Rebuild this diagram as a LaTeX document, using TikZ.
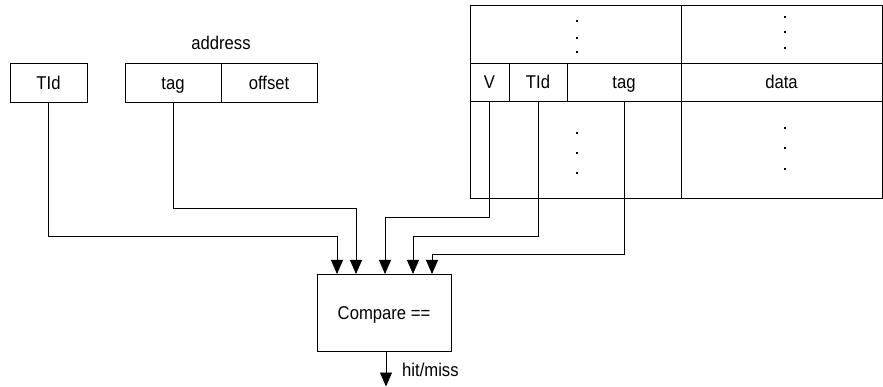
\documentclass[tikz,border=0pt]{standalone}
\usepackage{fontspec}
\setmainfont{Liberation Sans}[FakeStretch=0.9]
\usetikzlibrary{arrows.meta}
\begin{document}
\begin{tikzpicture}[x=1pt,y=-1pt,
  every node/.style={font=\fontsize{18.5}{22}\selectfont, text height=13.2pt, text depth=0pt},
  cell/.style={draw, line width=0.9pt, rectangle, inner sep=0pt},
  arr/.style={line width=0.9pt, -{Triangle[width=12pt,length=14pt]}},
  dotmark/.style={fill, rectangle, inner sep=0pt, minimum size=2.5pt, text height=0pt}
]
\useasboundingbox (0,0) rectangle (883,387);

% thread id register and address register
\node[cell, minimum width=77pt, minimum height=39pt] (tid)  at (48.5,82.5) {TId};
\node[cell, minimum width=96pt, minimum height=39pt] (atag) at (173,82.5) {tag};
\node[cell, minimum width=96pt, minimum height=39pt] (aoff) at (269,82.5) {offset};
\node (addr) at (221,43) {address};

% cache array: other lines above and below the selected line
\node[cell, minimum width=211pt, minimum height=58pt] (topl) at (575.5,34) {};
\node[cell, minimum width=201pt, minimum height=58pt] (topr) at (781.5,34) {};
\node[cell, minimum width=211pt, minimum height=97pt] (botl) at (575.5,149.5) {};
\node[cell, minimum width=201pt, minimum height=97pt] (botr) at (781.5,149.5) {};

% selected cache line
\node[cell, minimum width=39pt,  minimum height=38pt] (cv)    at (489.5,82) {V};
\node[cell, minimum width=58pt,  minimum height=38pt] (ctid)  at (538,82) {TId};
\node[cell, minimum width=114pt, minimum height=38pt] (ctag)  at (624,82) {tag};
\node[cell, minimum width=201pt, minimum height=38pt] (cdata) at (781.5,82) {data};

% ellipsis dots
\foreach \y in {21,38,52}    \node[dotmark] at (577,\y) {};
\foreach \y in {17,32,48}    \node[dotmark] at (785,\y) {};
\foreach \y in {133,153,173} \node[dotmark] at (577,\y) {};
\foreach \y in {128,148,169} \node[dotmark] at (785,\y) {};

% comparator
\node[cell, minimum width=134pt, minimum height=77pt] (cmp) at (384,312.5) {Compare ==};

% comparator inputs and routing bends
\coordinate (in1) at (337,274);
\coordinate (in2) at (356,274);
\coordinate (in3) at (385,274);
\coordinate (in4) at (413,274);
\coordinate (in5) at (432,274);
\coordinate (k1) at (337,236);
\coordinate (k2) at (356,208);
\coordinate (k3) at (385,217);
\coordinate (k4) at (413,236.5);
\coordinate (k5) at (432,254.5);

\draw[arr] (tid.south)  |- (k1) -- (in1);
\draw[arr] (atag.south) |- (k2) -- (in2);
\draw[arr] (cv.south)   |- (k3) -- (in3);
\draw[arr] (ctid.south) |- (k4) -- (in4);
\draw[arr] (ctag.south) |- (k5) -- (in5);

% result
\coordinate (out) at (386,386.5);
\draw[arr] (out |- cmp.south) -- (out);
\node[anchor=west, inner sep=0pt] (hm) at (402,370) {hit/miss};
\end{tikzpicture}
\end{document}
